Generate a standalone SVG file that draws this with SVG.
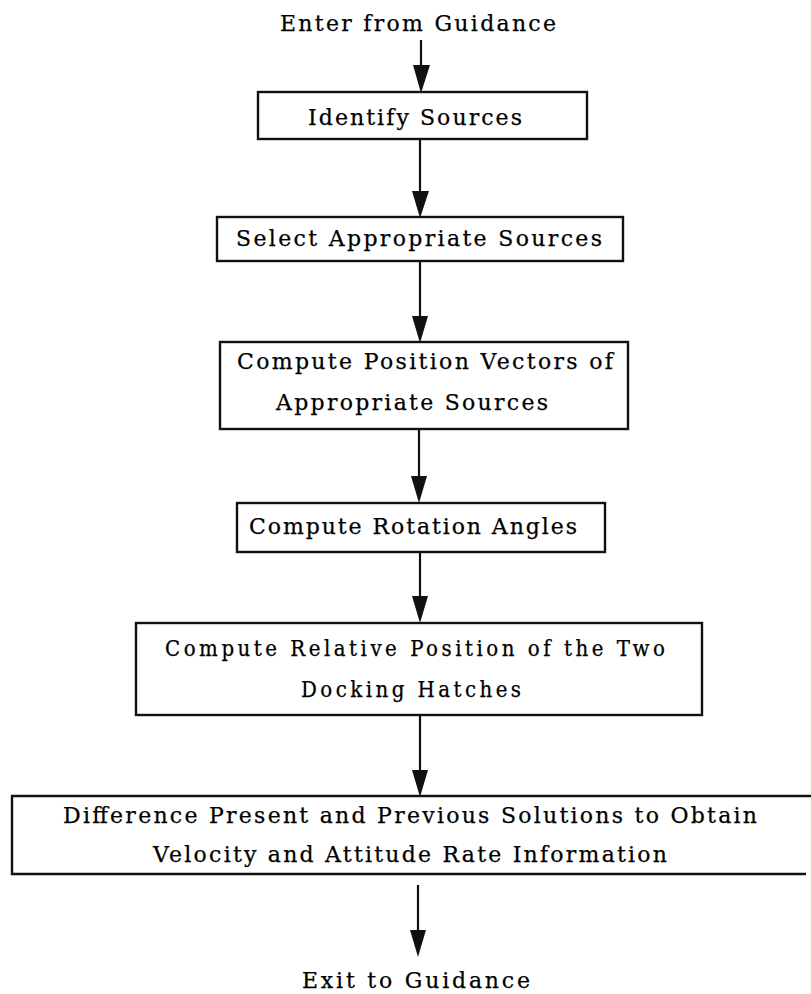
<svg xmlns="http://www.w3.org/2000/svg" width="811" height="994" viewBox="0 0 811 994">
  <defs>
    <style>
      .box { fill: #fff; stroke: #111; stroke-width: 2.4; }
      .edge { fill: none; stroke: #111; stroke-width: 2.2; }
      .head { fill: #111; }
      .lbl { font-family: "DejaVu Serif", "Liberation Serif", serif; font-size: 22px; fill: #000; stroke: #000; stroke-width: 0.25; text-anchor: middle; }
      .cond { font-family: "DejaVu Serif Condensed", "DejaVu Serif", "Liberation Serif", serif; font-stretch: condensed; }
    </style>
  </defs>
  <rect width="811" height="994" fill="#fff"/>

  <!-- flow connectors, top to bottom -->
  <g id="connectors">
    <line class="edge" x1="421" y1="40" x2="421" y2="70"/>
    <path class="head" d="M413,65 L430,65 L421,93 Z"/>
    <line class="edge" x1="420" y1="139" x2="420" y2="195"/>
    <path class="head" d="M412,191 L429,191 L420,218 Z"/>
    <line class="edge" x1="420" y1="262" x2="420" y2="320"/>
    <path class="head" d="M412,316 L428,316 L420,343 Z"/>
    <line class="edge" x1="419" y1="429" x2="419" y2="480"/>
    <path class="head" d="M411,476 L427,476 L419,503 Z"/>
    <line class="edge" x1="420" y1="552" x2="420" y2="600"/>
    <path class="head" d="M412,596 L428,596 L420,623 Z"/>
    <line class="edge" x1="420" y1="715" x2="420" y2="775"/>
    <path class="head" d="M412,770 L428,770 L420,797 Z"/>
    <line class="edge" x1="418" y1="885" x2="418" y2="935"/>
    <path class="head" d="M410,930 L426,930 L418,957 Z"/>
  </g>

  <text id="enter" class="lbl" x="418" y="31" textLength="276" lengthAdjust="spacing">Enter from Guidance</text>

  <g id="identify-sources">
    <rect class="box" x="258" y="92" width="329" height="47"/>
    <text class="lbl" x="415" y="125" textLength="214" lengthAdjust="spacing">Identify Sources</text>
  </g>

  <g id="select-sources">
    <rect class="box" x="217" y="217" width="406" height="44"/>
    <text class="lbl" x="419" y="246" textLength="366" lengthAdjust="spacing">Select Appropriate Sources</text>
  </g>

  <g id="position-vectors">
    <rect class="box" x="220" y="342" width="408" height="87"/>
    <text class="lbl" x="425" y="369" textLength="376" lengthAdjust="spacing">Compute Position Vectors of</text>
    <text class="lbl" x="412" y="410" textLength="272" lengthAdjust="spacing">Appropriate Sources</text>
  </g>

  <g id="rotation-angles">
    <rect class="box" x="237" y="503" width="368" height="49"/>
    <text class="lbl" x="413" y="534" textLength="328" lengthAdjust="spacing">Compute Rotation Angles</text>
  </g>

  <g id="relative-position">
    <rect class="box" x="136" y="623" width="566" height="92"/>
    <text class="lbl cond" x="415" y="656" textLength="500" lengthAdjust="spacing">Compute Relative Position of the Two</text>
    <text class="lbl cond" x="411" y="697" textLength="220" lengthAdjust="spacing">Docking Hatches</text>
  </g>

  <g id="difference-solutions">
    <path class="box" fill="none" d="M811,796 L12,796 L12,874 L806,874"/>
    <text class="lbl" x="410" y="823" textLength="694" lengthAdjust="spacing">Difference Present and Previous Solutions to Obtain</text>
    <text class="lbl" x="410" y="862" textLength="514" lengthAdjust="spacing">Velocity and Attitude Rate Information</text>
  </g>

  <text id="exit" class="lbl" x="416" y="988" textLength="228" lengthAdjust="spacing">Exit to Guidance</text>
</svg>
